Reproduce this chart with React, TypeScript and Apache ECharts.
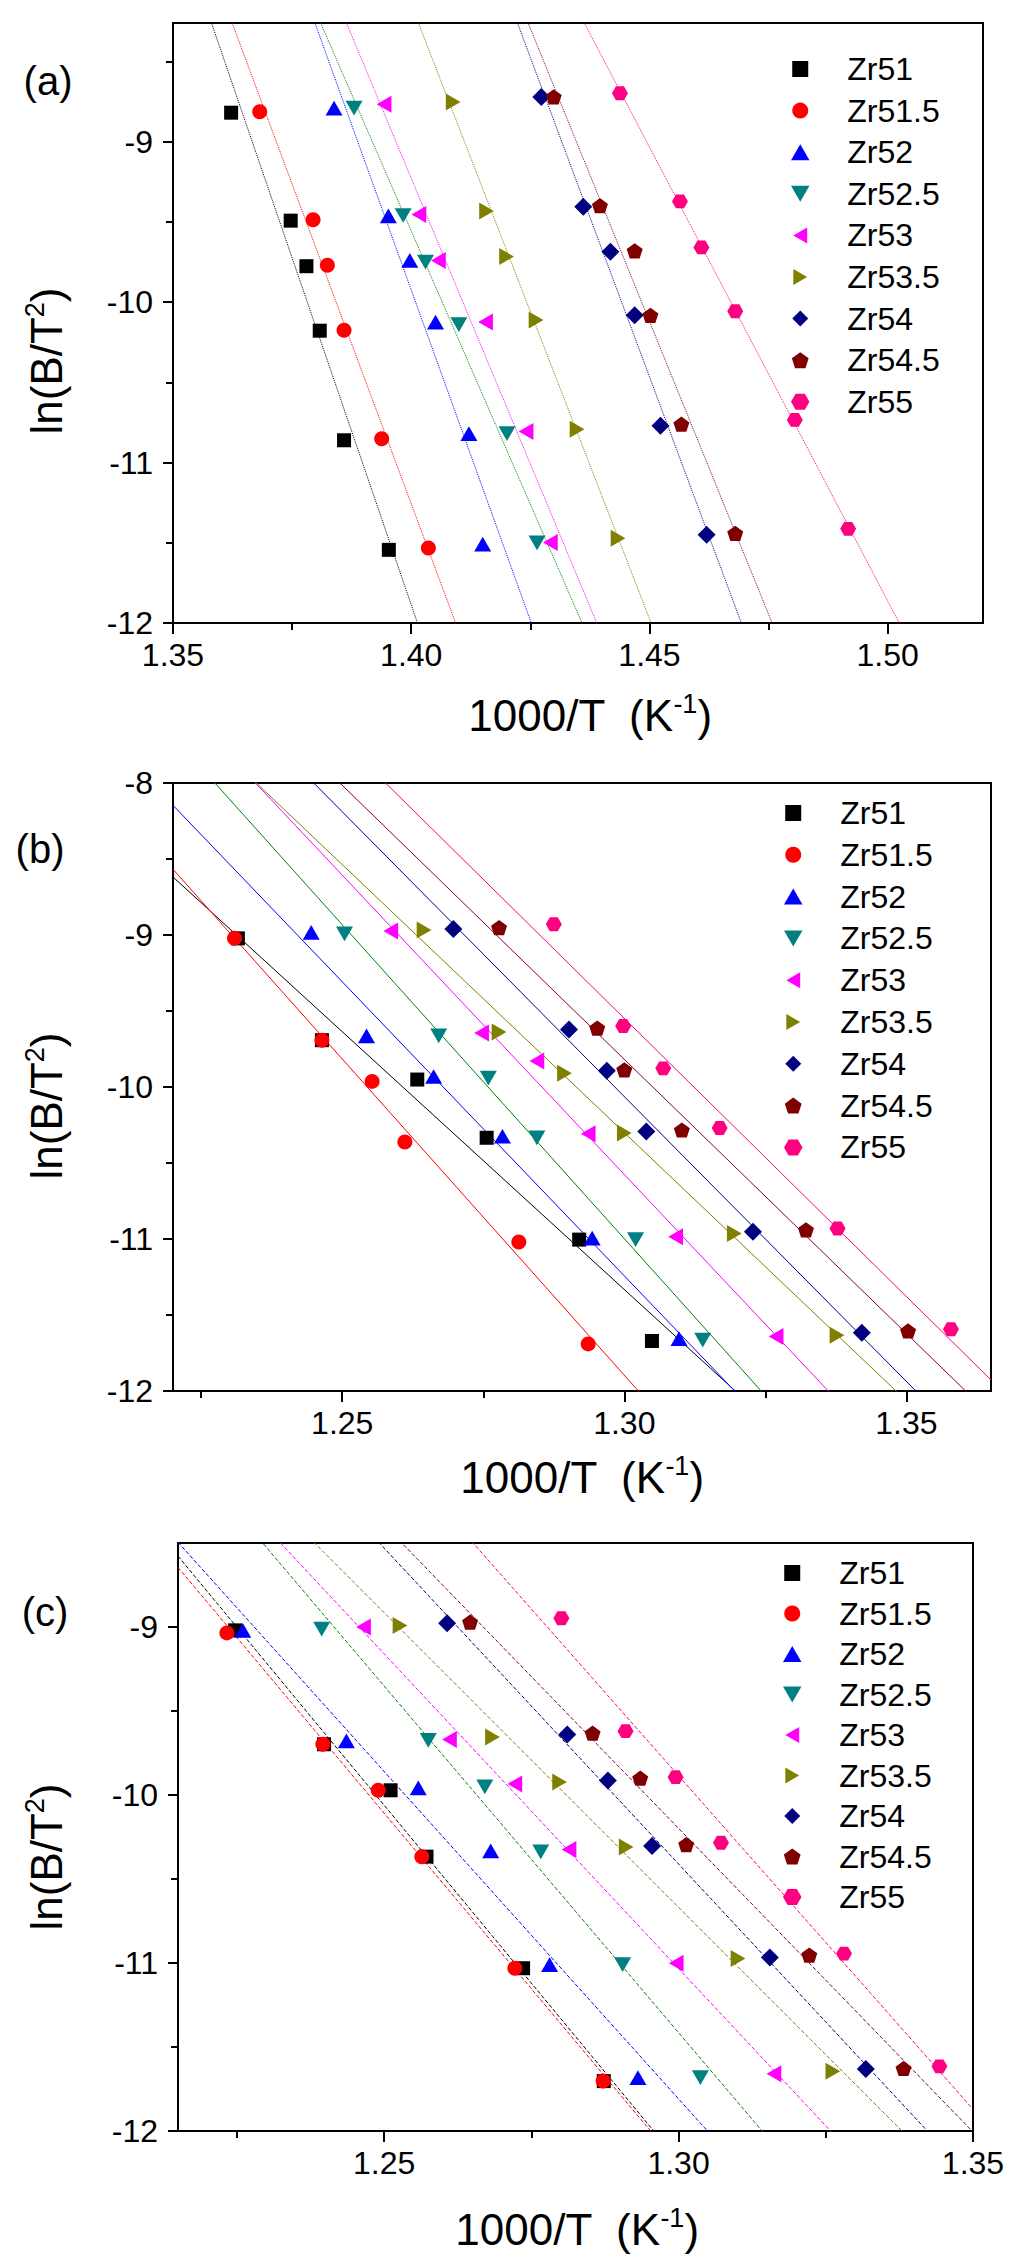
import React, { useEffect, useRef } from 'react';
import * as echarts from 'echarts';

// series names and styles
const names = ['Zr51', 'Zr51.5', 'Zr52', 'Zr52.5', 'Zr53', 'Zr53.5', 'Zr54', 'Zr54.5', 'Zr55'];
const markColors = ['#000000', '#ff0000', '#0000ff', '#008080', '#ff00ff', '#808000', '#000080', '#800000', '#ff0080'];
const fitColors = ['#000000', '#ff0000', '#0000ff', '#008000', '#ff00ff', '#808000', '#000080', '#800040', '#ff0080'];
const symbols = [
  'path://M0,0 L10,0 L10,10 L0,10 Z',
  'circle',
  'path://M5,0 L10,8.66 L0,8.66 Z',
  'path://M0,0 L10,0 L5,8.66 Z',
  'path://M8.66,0 L8.66,10 L0,5 Z',
  'path://M0,0 L8.66,5 L0,10 Z',
  'path://M5,0 L10,5 L5,10 L0,5 Z',
  'path://M10,0 L19.51,6.91 L15.88,18.09 L4.12,18.09 L0.49,6.91 Z',
  'path://M0,8.66 L5,0 L15,0 L20,8.66 L15,17.32 L5,17.32 Z',
];
const sizes = [14, 15, 17, 17, 17, 17, 18, 16, 16];

// panel (a): 1000/T and ln(B/T^2)
const aX = [
  [1.3622, 1.3747, 1.378, 1.3808, 1.3859, 1.3953],
  [1.3682, 1.3794, 1.3824, 1.3859, 1.3938, 1.4036],
  [1.3838, 1.3952, 1.3997, 1.4051, 1.4121, 1.415],
  [1.388, 1.3983, 1.403, 1.41, 1.4201, 1.4264],
  [1.3943, 1.4016, 1.4057, 1.4156, 1.4241, 1.4292],
  [1.4088, 1.4158, 1.42, 1.4262, 1.4348, 1.4434],
  [1.4273, 1.4361, 1.4418, 1.4469, 1.4523, 1.462],
  [1.4299, 1.4396, 1.4469, 1.4502, 1.4567, 1.468],
  [1.4438, 1.4564, 1.4609, 1.468, 1.4805, 1.4917],
];
const aY = [
  [-8.819, -9.492, -9.776, -10.178, -10.861, -11.544],
  [-8.813, -9.486, -9.77, -10.175, -10.852, -11.532],
  [-8.79, -9.462, -9.74, -10.124, -10.819, -11.508],
  [-8.79, -9.46, -9.75, -10.14, -10.82, -11.5],
  [-8.767, -9.453, -9.74, -10.124, -10.807, -11.498],
  [-8.752, -9.432, -9.716, -10.112, -10.792, -11.471],
  [-8.722, -9.405, -9.686, -10.082, -10.77, -11.45],
  [-8.72, -9.399, -9.68, -10.082, -10.761, -11.441],
  [-8.698, -9.372, -9.659, -10.057, -10.734, -11.413],
];

// panel (b)
const bX = [
  [1.2315, 1.2464, 1.2633, 1.2756, 1.292, 1.3049],
  [1.2309, 1.2464, 1.2553, 1.2611, 1.2813, 1.2936],
  [1.2445, 1.2543, 1.2662, 1.2784, 1.2943, 1.3097],
  [1.2504, 1.2671, 1.2759, 1.2845, 1.302, 1.3139],
  [1.2586, 1.2747, 1.2845, 1.2936, 1.3091, 1.3269],
  [1.2645, 1.2778, 1.2894, 1.3, 1.3195, 1.3377],
  [1.2697, 1.2902, 1.2969, 1.3039, 1.3228, 1.3421],
  [1.2778, 1.2952, 1.3, 1.3102, 1.3322, 1.3503],
  [1.2875, 1.2998, 1.3069, 1.3169, 1.3378, 1.3579],
];
const bY = [
  [-9.022, -9.692, -9.951, -10.334, -11.004, -11.671],
  [-9.022, -9.692, -9.963, -10.362, -11.02, -11.69],
  [-8.983, -9.663, -9.931, -10.324, -10.994, -11.655],
  [-8.993, -9.663, -9.941, -10.334, -11.004, -11.665],
  [-8.974, -9.644, -9.829, -10.308, -10.985, -11.642],
  [-8.967, -9.638, -9.909, -10.302, -10.963, -11.633],
  [-8.961, -9.622, -9.893, -10.292, -10.953, -11.617],
  [-8.951, -9.612, -9.887, -10.283, -10.94, -11.605],
  [-8.929, -9.599, -9.877, -10.27, -10.931, -11.594],
];

// panel (c)
const cX = [
  [1.2247, 1.2398, 1.2511, 1.2572, 1.2736, 1.2873],
  [1.2233, 1.2396, 1.249, 1.2564, 1.2722, 1.2872],
  [1.226, 1.2436, 1.2558, 1.2681, 1.2781, 1.2931],
  [1.2394, 1.2575, 1.2671, 1.2766, 1.2905, 1.3037],
  [1.2465, 1.2611, 1.2722, 1.2814, 1.2996, 1.3162],
  [1.2527, 1.2684, 1.2798, 1.2911, 1.3101, 1.3262],
  [1.2607, 1.2811, 1.288, 1.2955, 1.3155, 1.3318],
  [1.2646, 1.2854, 1.2935, 1.3013, 1.3222, 1.3382],
  [1.2801, 1.291, 1.2995, 1.3072, 1.3281, 1.3443],
];
const cY = [
  [-9.02, -9.698, -9.972, -10.367, -11.031, -11.703],
  [-9.035, -9.698, -9.972, -10.367, -11.031, -11.703],
  [-9.02, -9.678, -9.958, -10.333, -11.01, -11.682],
  [-9.012, -9.675, -9.952, -10.338, -11.01, -11.682],
  [-9.0, -9.669, -9.934, -10.324, -11.002, -11.659],
  [-8.991, -9.655, -9.923, -10.309, -10.973, -11.645],
  [-8.977, -9.64, -9.914, -10.304, -10.967, -11.631],
  [-8.971, -9.632, -9.9, -10.295, -10.953, -11.628],
  [-8.948, -9.62, -9.894, -10.284, -10.944, -11.615],
];

// axis ranges and ticks
const xRanges = [[1.35, 1.52], [1.22, 1.365], [1.215, 1.35]];
const yRanges = [[-12, -8.26], [-12, -8], [-12, -8.5]];
const xMajors = [[1.35, 1.4, 1.45, 1.5], [1.25, 1.3, 1.35], [1.25, 1.3, 1.35]];
const xMinors = [[1.375, 1.425, 1.475], [1.225, 1.275, 1.325], [1.225, 1.275, 1.325]];
const yMajors = [[-12, -11, -10, -9], [-12, -11, -10, -9, -8], [-12, -11, -10, -9]];
const yMinors = [[-11.5, -10.5, -9.5, -8.5], [-11.5, -10.5, -9.5, -8.5], [-11.5, -10.5, -9.5]];
const panelLabels = ['(a)', '(b)', '(c)'];
const fitTypes = ['dotted', 'solid', 'dashed'];

const FONT = "Arial, 'Liberation Sans', sans-serif";

function linFit(xs: number[], ys: number[]) {
  const n = xs.length;
  const mx = xs.reduce((s, v) => s + v, 0) / n;
  const my = ys.reduce((s, v) => s + v, 0) / n;
  let sxy = 0;
  let sxx = 0;
  for (let i = 0; i < n; i++) {
    sxy += (xs[i] - mx) * (ys[i] - my);
    sxx += (xs[i] - mx) * (xs[i] - mx);
  }
  const k = sxy / sxx;
  return { k, b: my - k * mx };
}

export default function App() {
  const chartRef = useRef<HTMLDivElement>(null);

  useEffect(() => {
    if (!chartRef.current) return;
    const myChart = echarts.init(chartRef.current, null, { renderer: 'svg' });

    const panelX = [aX, bX, cX];
    const panelY = [aY, bY, cY];
    const grids = [
      { left: 173, top: 23, width: 810, height: 600 },
      { left: 173, top: 783, width: 818, height: 608 },
      { left: 178, top: 1543, width: 795, height: 588 },
    ];
    const legendPos = [
      { left: 786, top: 48, itemGap: 9.6 },
      { left: 779, top: 792, itemGap: 9.8 },
      { left: 778, top: 1552, itemGap: 8.5 },
    ];
    const panelLabelPos = [[48, 81], [40, 849], [45, 1612]];
    const yTitlePos = [[46, 361], [46, 1106], [46, 1857]];
    const xTitlePos = [[590, 715], [582, 1477], [577, 2229]];

    const xAxis: any[] = [];
    const yAxis: any[] = [];
    const series: any[] = [];
    const legend: any[] = [];
    const graphics: any[] = [];

    for (let p = 0; p < 3; p++) {
      const [x0, x1] = xRanges[p];
      const [y0, y1] = yRanges[p];
      // main axes
      xAxis.push({
        type: 'value', gridIndex: p, min: x0, max: x1, position: 'bottom',
        axisLine: { show: true, onZero: false, lineStyle: { color: '#000', width: 2 } },
        axisTick: { show: true, customValues: xMajors[p], length: 11, lineStyle: { color: '#000', width: 2 } },
        axisLabel: {
          customValues: xMajors[p], formatter: (v: number) => v.toFixed(2),
          fontSize: 32, color: '#000', fontFamily: FONT, margin: 16,
        },
        splitLine: { show: false },
      });
      // minor ticks
      xAxis.push({
        type: 'value', gridIndex: p, min: x0, max: x1, position: 'bottom',
        axisLine: { show: false, onZero: false },
        axisTick: { show: true, customValues: xMinors[p], length: 7, lineStyle: { color: '#000', width: 2 } },
        axisLabel: { show: false },
        splitLine: { show: false },
      });
      yAxis.push({
        type: 'value', gridIndex: p, min: y0, max: y1, position: 'left',
        axisLine: { show: true, onZero: false, lineStyle: { color: '#000', width: 2 } },
        axisTick: { show: true, customValues: yMajors[p], length: 10, lineStyle: { color: '#000', width: 2 } },
        axisLabel: {
          customValues: yMajors[p], formatter: (v: number) => String(Math.round(v)),
          fontSize: 32, color: '#000', fontFamily: FONT, margin: 20,
        },
        splitLine: { show: false },
      });
      yAxis.push({
        type: 'value', gridIndex: p, min: y0, max: y1, position: 'left',
        axisLine: { show: false, onZero: false },
        axisTick: { show: true, customValues: yMinors[p], length: 7, lineStyle: { color: '#000', width: 2 } },
        axisLabel: { show: false },
        splitLine: { show: false },
      });

      for (let i = 0; i < names.length; i++) {
        const xs = panelX[p][i];
        const ys = panelY[p][i];
        const { k, b } = linFit(xs, ys);
        series.push({
          type: 'line',
          name: `fit ${panelLabels[p]} ${names[i]}`,
          xAxisIndex: p * 2,
          yAxisIndex: p * 2,
          data: [[x0, k * x0 + b], [x1, k * x1 + b]],
          symbol: 'none',
          clip: true,
          silent: true,
          z: 2,
          lineStyle: { color: fitColors[i], width: 1, type: fitTypes[p] },
        });
        series.push({
          type: 'scatter',
          name: names[i],
          xAxisIndex: p * 2,
          yAxisIndex: p * 2,
          data: xs.map((x, j) => [x, ys[j]]),
          symbol: symbols[i],
          symbolSize: sizes[i],
          symbolKeepAspect: true,
          itemStyle: { color: markColors[i], opacity: 1 },
          z: 3,
        });
      }

      legend.push({
        data: names,
        orient: 'vertical',
        left: legendPos[p].left,
        top: legendPos[p].top,
        itemGap: legendPos[p].itemGap,
        itemWidth: 84,
        itemHeight: 16,
        selectedMode: false,
        textStyle: { fontSize: 32, color: '#000', fontFamily: FONT, lineHeight: 32 },
      });

      graphics.push({
        type: 'text',
        x: panelLabelPos[p][0],
        y: panelLabelPos[p][1],
        style: {
          text: panelLabels[p], fontSize: 40, fontFamily: FONT, fill: '#000',
          textAlign: 'center', textVerticalAlign: 'middle',
        },
      });
      graphics.push({
        type: 'text',
        x: yTitlePos[p][0],
        y: yTitlePos[p][1],
        rotation: Math.PI / 2,
        style: {
          text: '{a|ln(B/T}{s|2}{a|)}',
          rich: {
            a: { fontSize: 44, fontFamily: FONT, fill: '#000', lineHeight: 50 },
            s: { fontSize: 27, fontFamily: FONT, fill: '#000', verticalAlign: 'top', lineHeight: 30 },
          },
          textAlign: 'center', textVerticalAlign: 'middle',
        },
      });
      graphics.push({
        type: 'text',
        x: xTitlePos[p][0],
        y: xTitlePos[p][1],
        style: {
          text: '{a|1000/T  (K}{s|-1}{a|)}',
          rich: {
            a: { fontSize: 44, fontFamily: FONT, fill: '#000', lineHeight: 50 },
            s: { fontSize: 27, fontFamily: FONT, fill: '#000', verticalAlign: 'top', lineHeight: 30 },
          },
          textAlign: 'center', textVerticalAlign: 'middle',
        },
      });
    }

    const option = {
      animation: false,
      backgroundColor: '#fff',
      grid: grids.map((g) => ({ ...g, show: true, borderColor: '#000', borderWidth: 2, containLabel: false })),
      xAxis,
      yAxis,
      legend,
      series,
      graphic: { elements: graphics },
    };

    myChart.setOption(option);

    return () => {
      myChart.dispose();
    };
  }, []);

  return (
    <div
      ref={chartRef}
      style={{ position: 'absolute', left: 0, top: 0, width: '1024px', height: '2262px' }}
    />
  );
}
